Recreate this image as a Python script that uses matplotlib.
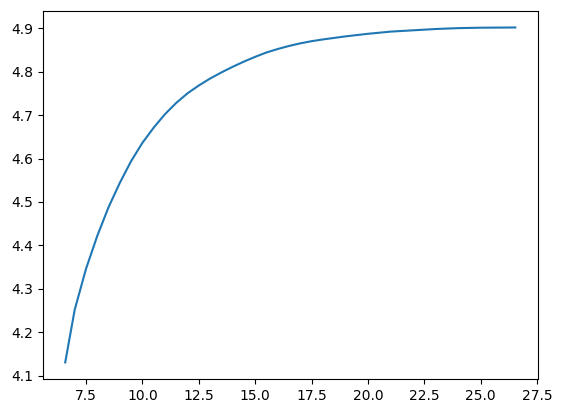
import matplotlib
matplotlib.use('Agg')
import matplotlib.pyplot as plt

x_vals = [6.58, 7.0, 7.5, 8.0, 8.5, 9.0, 9.5, 10.0, 10.5, 11.0, 11.5, 12.0,
          12.5, 13.0, 13.5, 14.0, 14.5, 15.0, 15.5, 16.0, 16.5, 17.0, 17.5,
          18.0, 19.0, 20.0, 21.0, 22.0, 23.0, 24.0, 25.0, 26.53]
y_vals = [4.131, 4.252, 4.346, 4.422, 4.488, 4.544, 4.594, 4.636, 4.671, 4.702,
          4.728, 4.750, 4.768, 4.784, 4.798, 4.811, 4.823, 4.834, 4.844, 4.852,
          4.859, 4.865, 4.870, 4.874, 4.881, 4.887, 4.892, 4.895, 4.898, 4.900,
          4.901, 4.9015]

fig = plt.figure(figsize=(5.62, 4.13), dpi=100)
ax = fig.add_axes([0.076, 0.082, 0.881, 0.892])
ax.plot(x_vals, y_vals)
fig.savefig('out.png', dpi=100)
